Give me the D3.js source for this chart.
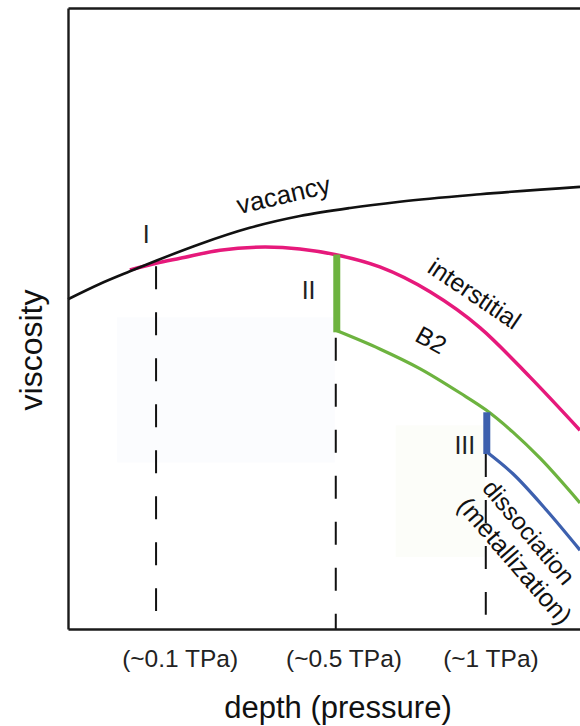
<!DOCTYPE html>
<html>
<head>
<meta charset="utf-8">
<script src="https://cdn.jsdelivr.net/npm/d3@7/dist/d3.min.js"></script>
<style>
  html, body { margin: 0; padding: 0; background: #fff; }
  svg { display: block; font-family: "Liberation Sans", Arial, sans-serif; }
</style>
</head>
<body>
<svg id="svg" width="580" height="726"></svg>
<script>
// depth runs 0..10, viscosity 0..10 (arbitrary units, schematic)
var vacancyDepth = [0, 0.63, 1.21, 1.72, 2.58, 3.55, 4.53, 5.51, 6.48, 8.05, 10];
var vacancyVisc  = [5.31, 5.56, 5.76, 5.93, 6.20, 6.46, 6.65, 6.78, 6.88, 7.00, 7.12];

var interDepth = [1.21, 1.72, 2.19, 2.97, 3.85, 4.53, 5.21, 6.09, 7.07, 8.05, 9.02, 10];
var interVisc  = [5.78, 5.89, 5.97, 6.10, 6.15, 6.12, 6.03, 5.83, 5.43, 4.85, 4.06, 3.20];

var b2Depth = [5.23, 6.09, 6.88, 7.66, 8.16, 8.69, 9.22, 10];
var b2Visc  = [4.81, 4.51, 4.19, 3.80, 3.53, 3.17, 2.75, 2.03];

var dissDepth = [8.18, 8.69, 9.36, 10];
var dissVisc  = [2.85, 2.50, 1.90, 1.27];

// phase transitions I, II, III
var transNames = ["I", "II", "III"];
var transDepth = [1.72, 5.23, 8.16];
var dashTop    = [5.84, 4.69, 2.82];
var dashBottom = [0.29, 0, 0.23];
var jumpTop    = [null, 6.03, 3.49];
var jumpBottom = [null, 4.81, 2.85];
var jumpColor  = [null, "#6db33f", "#3d60ae"];

var tickLabels = ["(~0.1 TPa)", "(~0.5 TPa)", "(~1 TPa)"];
var tickLabelDepth = [2.19, 5.39, 8.26];

var svg = d3.select("#svg"),
    plotLeft = 68, plotRight = 580, plotTop = 8, plotBottom = 629;

var x = d3.scaleLinear().domain([0, 10]).range([plotLeft, plotRight]);
var y = d3.scaleLinear().domain([0, 10]).range([plotBottom, plotTop]);

// faint background boxes seen in the original figure
svg.append("rect").attr("x", x(0.96)).attr("y", y(5.02))
  .attr("width", x(5.21) - x(0.96)).attr("height", y(2.68) - y(5.02))
  .attr("fill", "#fbfcfe");
svg.append("rect").attr("x", x(6.4)).attr("y", y(3.28))
  .attr("width", x(8.14) - x(6.4)).attr("height", y(1.16) - y(3.28))
  .attr("fill", "#fcfdf9");

var line = d3.line()
    .x(function(d) { return x(d[0]); })
    .y(function(d) { return y(d[1]); })
    .curve(d3.curveMonotoneX);

function pairs(a, b) { return a.map(function(v, i) { return [v, b[i]]; }); }

var plot = svg.append("g");

// dashed verticals
transDepth.forEach(function(d, i) {
  plot.append("line")
    .attr("x1", x(d)).attr("x2", x(d))
    .attr("y1", y(dashTop[i])).attr("y2", y(dashBottom[i]))
    .attr("stroke", "#111").attr("stroke-width", 2)
    .attr("stroke-dasharray", "23,23");
});

plot.append("path").datum(pairs(b2Depth, b2Visc))
  .attr("d", line).attr("fill", "none")
  .attr("stroke", "#6db33f").attr("stroke-width", 3.2);

plot.append("path").datum(pairs(dissDepth, dissVisc))
  .attr("d", line).attr("fill", "none")
  .attr("stroke", "#3d60ae").attr("stroke-width", 3.2);

plot.append("path").datum(pairs(interDepth, interVisc))
  .attr("d", line).attr("fill", "none")
  .attr("stroke", "#e6197b").attr("stroke-width", 3.5);

plot.append("path").datum(pairs(vacancyDepth, vacancyVisc))
  .attr("d", line).attr("fill", "none")
  .attr("stroke", "#111").attr("stroke-width", 2.6);

// jumps at II and III
transDepth.forEach(function(d, i) {
  if (jumpTop[i] == null) return;
  plot.append("line")
    .attr("x1", x(d) + 1).attr("x2", x(d) + 1)
    .attr("y1", y(jumpTop[i])).attr("y2", y(jumpBottom[i]) + 2)
    .attr("stroke", jumpColor[i]).attr("stroke-width", 7);
});

// frame
svg.append("g").attr("transform", "translate(0," + plotBottom + ")")
  .call(d3.axisBottom(x).tickValues([]).tickSizeOuter(0))
  .select(".domain").attr("stroke", "#1a1a1a").attr("stroke-width", 2.4);
svg.append("g").attr("transform", "translate(0," + plotTop + ")")
  .call(d3.axisTop(x).tickValues([]).tickSizeOuter(0))
  .select(".domain").attr("stroke", "#1a1a1a").attr("stroke-width", 2.4);
svg.append("g").attr("transform", "translate(" + plotLeft + ",0)")
  .call(d3.axisLeft(y).tickValues([]).tickSizeOuter(0))
  .select(".domain").attr("stroke", "#1a1a1a").attr("stroke-width", 2.4);

// tick labels
svg.selectAll(".tlab").data(tickLabels).enter().append("text")
  .attr("class", "tlab")
  .attr("x", function(d, i) { return x(tickLabelDepth[i]); })
  .attr("y", 667)
  .attr("text-anchor", "middle")
  .attr("font-size", 24.5)
  .attr("fill", "#222")
  .text(function(d) { return d; });

// roman numerals
var romanPos = [[1.53, 6.22], [4.7, 5.31], [7.75, 2.82]];
svg.selectAll(".roman").data(transNames).enter().append("text")
  .attr("class", "roman")
  .attr("x", function(d, i) { return x(romanPos[i][0]); })
  .attr("y", function(d, i) { return y(romanPos[i][1]); })
  .attr("text-anchor", "middle")
  .attr("font-size", 25)
  .attr("fill", "#222")
  .text(function(d) { return d; });

// curve labels
function label(txt, d, v, angle, size) {
  svg.append("text")
    .attr("transform", "translate(" + x(d) + "," + y(v) + ") rotate(" + angle + ")")
    .attr("font-size", size)
    .attr("fill", "#111")
    .text(txt);
}
label("vacancy", 3.34, 6.68, -13, 26);
label("interstitial", 6.99, 5.76, 34, 25);
label("B2", 6.75, 4.65, 29, 25);
label("dissociation", 8.07, 2.26, 50, 24.5);
label("(metallization)", 7.58, 1.97, 49, 25.5);

// axis titles
svg.append("text")
  .attr("transform", "translate(42,350) rotate(-90)")
  .attr("text-anchor", "middle")
  .attr("font-size", 32)
  .attr("fill", "#111")
  .text("viscosity");

svg.append("text")
  .attr("x", 338).attr("y", 718)
  .attr("text-anchor", "middle")
  .attr("font-size", 31)
  .attr("fill", "#111")
  .text("depth (pressure)");
</script>
</body>
</html>
